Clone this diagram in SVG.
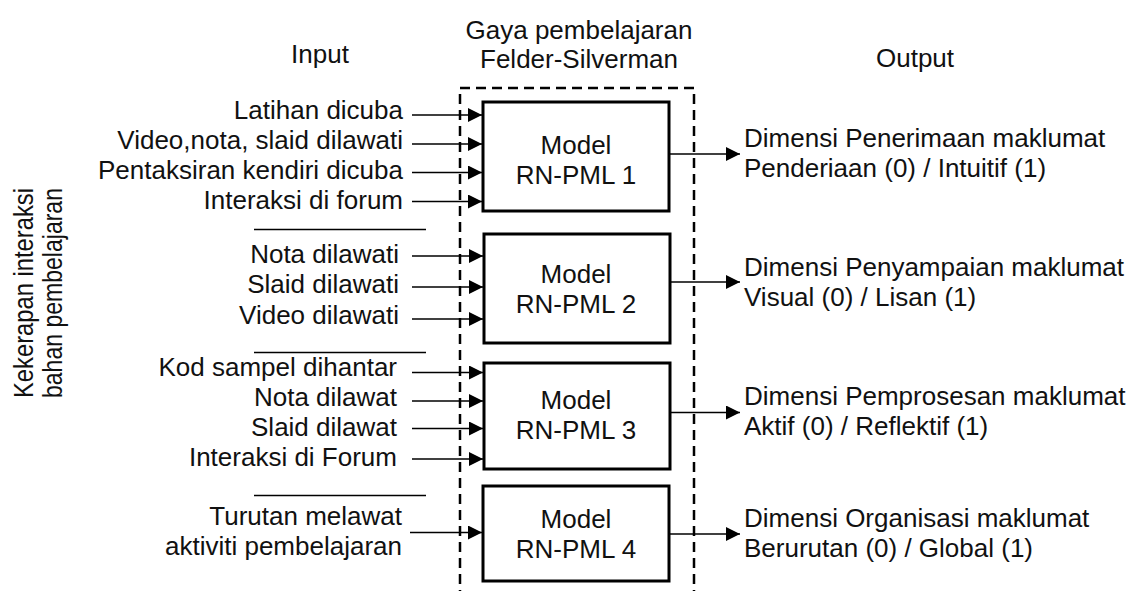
<svg xmlns="http://www.w3.org/2000/svg" width="1140" height="591" viewBox="0 0 1140 591">
<defs>
<marker id="ah" markerWidth="14" markerHeight="14" refX="14" refY="7" orient="auto" markerUnits="userSpaceOnUse">
<path d="M0,0 L14,7 L0,14 Z" fill="#000"/>
</marker>
<style>
text{font-family:"Liberation Sans",Arial,sans-serif;font-size:26px;fill:#111}
.in{text-anchor:end}
.mid{text-anchor:middle}
.box{fill:#fff;stroke:#000;stroke-width:3}
.con{stroke:#000;stroke-width:1.6;fill:none}
.arr{stroke:#000;stroke-width:1.6;fill:none;marker-end:url(#ah)}
.sep{stroke:#000;stroke-width:1.3}
.vert{font-size:27px;text-anchor:middle}
</style>
</defs>
<rect width="1140" height="591" fill="#fff"/>

<g id="headings">
<text class="mid" x="320" y="63">Input</text>
<text class="mid" x="579" y="39">Gaya pembelajaran</text>
<text class="mid" x="579" y="68">Felder-Silverman</text>
<text class="mid" x="915" y="67">Output</text>
<text class="vert" transform="translate(33,293) rotate(-90)" textLength="210" lengthAdjust="spacingAndGlyphs">Kekerapan interaksi</text>
<text class="vert" transform="translate(62,293) rotate(-90)" textLength="210" lengthAdjust="spacingAndGlyphs">bahan pembelajaran</text>
</g>

<g id="frame">
<path d="M460,600 V88 H694 V600" fill="none" stroke="#000" stroke-width="2.5" stroke-dasharray="10 6"/>
</g>

<g id="separators">
<line class="sep" x1="254" y1="229.5" x2="426" y2="229.5"/>
<line class="sep" x1="254" y1="352.5" x2="426" y2="352.5"/>
<line class="sep" x1="254" y1="495.5" x2="426" y2="495.5"/>
</g>

<g id="inputs">
<text class="in" x="403" y="119">Latihan dicuba</text>
<text class="in" x="403" y="149">Video,nota, slaid dilawati</text>
<text class="in" x="403" y="179">Pentaksiran kendiri dicuba</text>
<text class="in" x="403" y="209">Interaksi di forum</text>
<text class="in" x="399" y="263">Nota dilawati</text>
<text class="in" x="399" y="293">Slaid dilawati</text>
<text class="in" x="399" y="324">Video dilawati</text>
<text class="in" x="397" y="376">Kod sampel dihantar</text>
<text class="in" x="397" y="406">Nota dilawat</text>
<text class="in" x="397" y="436">Slaid dilawat</text>
<text class="in" x="397" y="466">Interaksi di Forum</text>
<text class="in" x="402" y="525">Turutan melawat</text>
<text class="in" x="402" y="555">aktiviti pembelajaran</text>
</g>

<g id="node1">
<rect class="box" x="483" y="102" width="186" height="109"/>
<text class="mid" x="576" y="154">Model</text>
<text class="mid" x="576" y="184">RN-PML 1</text>
</g>
<g id="node2">
<rect class="box" x="484" y="234" width="186" height="109"/>
<text class="mid" x="576" y="283">Model</text>
<text class="mid" x="576" y="313">RN-PML 2</text>
</g>
<g id="node3">
<rect class="box" x="484" y="363" width="186" height="106"/>
<text class="mid" x="576" y="409">Model</text>
<text class="mid" x="576" y="439">RN-PML 3</text>
</g>
<g id="node4">
<rect class="box" x="483" y="486" width="186" height="95"/>
<text class="mid" x="576" y="528">Model</text>
<text class="mid" x="576" y="558">RN-PML 4</text>
</g>

<g id="outputs">
<text x="744" y="147">Dimensi Penerimaan maklumat</text>
<text x="744" y="177">Penderiaan (0) / Intuitif (1)</text>
<text x="744" y="276">Dimensi Penyampaian maklumat</text>
<text x="744" y="306">Visual (0) / Lisan (1)</text>
<text x="744" y="405">Dimensi Pemprosesan maklumat</text>
<text x="744" y="435">Aktif (0) / Reflektif (1)</text>
<text x="744" y="527">Dimensi Organisasi maklumat</text>
<text x="744" y="557">Berurutan (0) / Global (1)</text>
</g>

<g id="connectors">
<line class="arr" x1="412" y1="115" x2="482" y2="115"/>
<line class="arr" x1="412" y1="144" x2="482" y2="144"/>
<line class="arr" x1="412" y1="172.5" x2="482" y2="172.5"/>
<line class="arr" x1="412" y1="201.5" x2="482" y2="201.5"/>
<line class="arr" x1="412" y1="256" x2="483" y2="256"/>
<line class="arr" x1="412" y1="287" x2="483" y2="287"/>
<line class="arr" x1="412" y1="319" x2="483" y2="319"/>
<line class="arr" x1="412" y1="372.5" x2="483" y2="372.5"/>
<line class="arr" x1="412" y1="401" x2="483" y2="401"/>
<line class="arr" x1="412" y1="428.5" x2="483" y2="428.5"/>
<line class="arr" x1="412" y1="459" x2="483" y2="459"/>
<line class="arr" x1="410" y1="532.5" x2="482" y2="532.5"/>
<line class="arr" x1="669" y1="154" x2="740" y2="154"/>
<line class="arr" x1="670" y1="282" x2="740" y2="282"/>
<line class="arr" x1="670" y1="412.5" x2="740" y2="412.5"/>
<line class="arr" x1="669" y1="534" x2="740" y2="534"/>
</g>
</svg>
